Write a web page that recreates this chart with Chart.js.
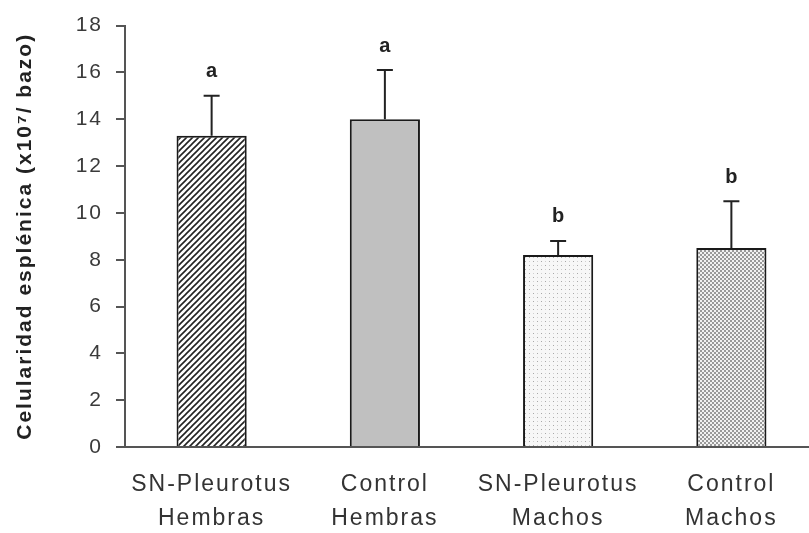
<!DOCTYPE html>
<html>
<head>
<meta charset="utf-8">
<script src="https://cdn.jsdelivr.net/npm/chart.js@4"></script>
<style>
  html, body { margin: 0; padding: 0; background: #fff; overflow: hidden; }
  #wrap { width: 818px; height: 533px; }
</style>
</head>
<body>
<div id="wrap"><canvas id="barChart"></canvas></div>
<script>
// groups on the x axis
var categories = [
    ["SN-Pleurotus", "Hembras"],
    ["Control", "Hembras"],
    ["SN-Pleurotus", "Machos"],
    ["Control", "Machos"]
];
// mean spleen cellularity (x10^7 / bazo)
var means = [13.3, 14.0, 8.2, 8.5];
// upper error (SD) for each bar
var errUp = [1.7, 2.1, 0.6, 2.0];
// significance letters above the bars
var letters = ["a", "a", "b", "b"];

var FONT = "'Liberation Sans', Arial, sans-serif";

// small repeating fills like the old excel patterns
function makePattern(kind) {
    var c = document.createElement("canvas");
    var p = c.getContext("2d");
    if (kind === "hatch") {
        c.width = 6; c.height = 6;
        p.fillStyle = "#fff";
        p.fillRect(0, 0, 6, 6);
        p.strokeStyle = "#222";
        p.lineWidth = 1.6;
        p.beginPath();
        p.moveTo(-1, 7); p.lineTo(7, -1);
        p.moveTo(-1, 1); p.lineTo(1, -1);
        p.moveTo(5, 7); p.lineTo(7, 5);
        p.stroke();
    } else if (kind === "dots") {
        c.width = 8; c.height = 8;
        p.fillStyle = "#f7f7f7";
        p.fillRect(0, 0, 8, 8);
        p.fillStyle = "#a8a8a8";
        p.fillRect(1, 1, 1, 1);
        p.fillRect(5, 5, 1, 1);
        p.fillStyle = "#d0d0d0";
        p.fillRect(5, 1, 1, 1);
        p.fillRect(1, 5, 1, 1);
    } else if (kind === "checker") {
        c.width = 4; c.height = 4;
        p.fillStyle = "#9a9a9a";
        p.fillRect(0, 0, 4, 4);
        p.fillStyle = "#f2f2f2";
        p.fillRect(0, 0, 2, 2);
        p.fillRect(2, 2, 2, 2);
    }
    return p.createPattern(c, "repeat");
}

var fills = [makePattern("hatch"), "#c0c0c0", makePattern("dots"), makePattern("checker")];

// the original text is set wide, so space the letters out a bit
var wideText = {
    id: "wideText",
    beforeLayout: function (chart) { chart.ctx.letterSpacing = "2px"; },
    beforeDraw: function (chart) { chart.ctx.letterSpacing = "2px"; }
};

// draws the upward error bars and the letters
var errorBars = {
    id: "errorBars",
    afterDatasetsDraw: function (chart) {
        var ctx = chart.ctx;
        var meta = chart.getDatasetMeta(0);
        var yScale = chart.scales.y;
        ctx.save();
        ctx.letterSpacing = "0px";
        ctx.strokeStyle = "#222";
        ctx.lineWidth = 2;
        meta.data.forEach(function (bar, i) {
            var yTop = yScale.getPixelForValue(means[i] + errUp[i]);
            var yBar = yScale.getPixelForValue(means[i]);
            ctx.beginPath();
            ctx.moveTo(bar.x, yBar);
            ctx.lineTo(bar.x, yTop);
            ctx.moveTo(bar.x - 8, yTop);
            ctx.lineTo(bar.x + 8, yTop);
            ctx.stroke();

            ctx.fillStyle = "#222";
            ctx.font = "bold 20px " + FONT;
            ctx.textAlign = "center";
            ctx.textBaseline = "bottom";
            ctx.fillText(letters[i], bar.x, yTop - 14);
        });
        ctx.restore();
    }
};

var ctx = document.getElementById("barChart");
var barChart = new Chart(ctx, {
    type: "bar",
    data: {
        labels: categories,
        datasets: [{
            data: means,
            backgroundColor: fills,
            borderColor: "#1a1a1a",
            borderWidth: 2,
            borderSkipped: "bottom",
            barPercentage: 0.81,
            categoryPercentage: 0.5
        }]
    },
    options: {
        responsive: true,
        maintainAspectRatio: false,
        animation: false,
        layout: { padding: { top: 9, left: 0, right: 0, bottom: 0 } },
        plugins: {
            legend: { display: false },
            tooltip: { enabled: false }
        },
        scales: {
            x: {
                grid: { display: false, drawTicks: false },
                border: { display: true, color: "#555", width: 2 },
                ticks: {
                    color: "#333",
                    padding: 21,
                    font: { family: FONT, size: 23, lineHeight: 1.48 }
                },
                afterFit: function (scale) { scale.height = 86; }
            },
            y: {
                min: 0,
                max: 18,
                ticks: {
                    stepSize: 2,
                    color: "#3a3a3a",
                    padding: 13,
                    font: { family: FONT, size: 21 }
                },
                grid: {
                    drawOnChartArea: false,
                    drawTicks: true,
                    tickLength: 9,
                    color: "#555",
                    lineWidth: 2
                },
                border: { display: true, color: "#555", width: 2 },
                title: {
                    display: true,
                    text: "Celularidad esplénica (x10⁷/ bazo)",
                    color: "#222",
                    padding: { top: 13, bottom: 0 },
                    font: { family: FONT, size: 21, weight: "bold" }
                },
                afterFit: function (scale) { scale.width = 125; }
            }
        }
    },
    plugins: [wideText, errorBars]
});
</script>
</body>
</html>
